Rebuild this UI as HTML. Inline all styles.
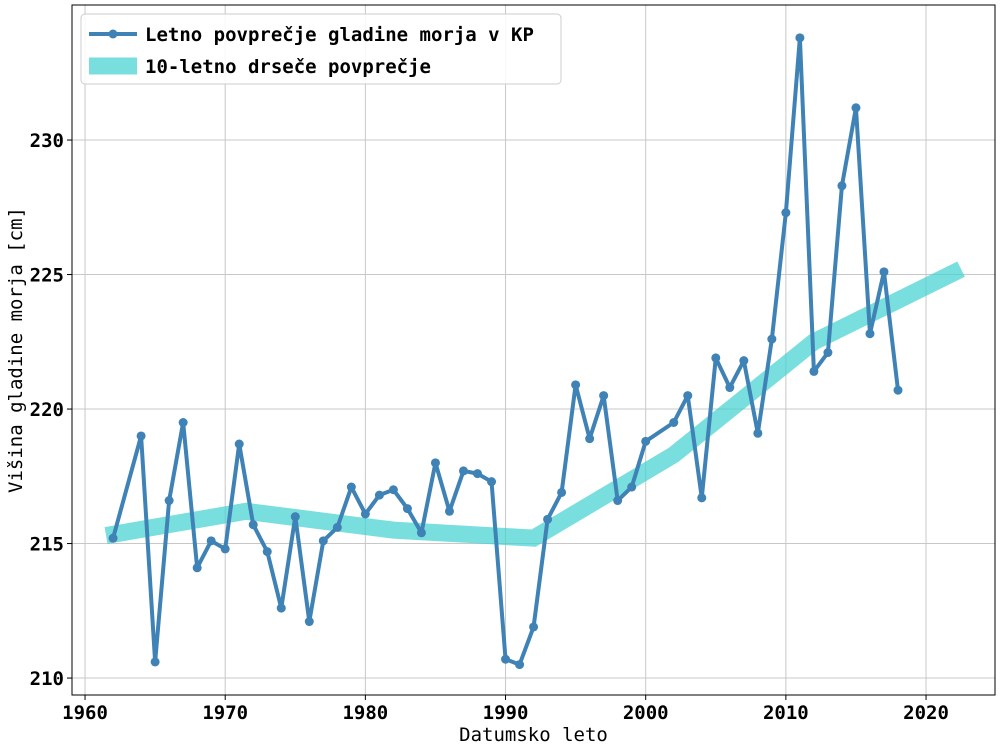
<!DOCTYPE html>
<html><head><meta charset="utf-8"><style>
body{margin:0;background:#fff;}
svg{display:block;font-family:"DejaVu Sans Mono","Liberation Mono",monospace;}
</style></head><body>
<svg id="chart" width="1003" height="750"></svg>
<script>
const years=[1962,1964,1965,1966,1967,1968,1969,1970,1971,1972,1973,1974,1975,1976,1977,1978,1979,1980,1981,1982,1983,1984,1985,1986,1987,1988,1989,1990,1991,1992,1993,1994,1995,1996,1997,1998,1999,2000,2002,2003,2004,2005,2006,2007,2008,2009,2010,2011,2012,2013,2014,2015,2016,2017,2018];
const levels=[215.2,219.0,210.6,216.6,219.5,214.1,215.1,214.8,218.7,215.7,214.7,212.6,216.0,212.1,215.1,215.6,217.1,216.1,216.8,217.0,216.3,215.4,218.0,216.2,217.7,217.6,217.3,210.7,210.5,211.9,215.9,216.9,220.9,218.9,220.5,216.6,217.1,218.8,219.5,220.5,216.7,221.9,220.8,221.8,219.1,222.6,227.3,233.8,221.4,222.1,228.3,231.2,222.8,225.1,220.7];
const maYears=[1961.5,1971.5,1982,1992,2002,2012,2022.5];
const maValues=[215.3,216.2,215.5,215.2,218.3,222.5,225.2];
const xTicks=[1960,1970,1980,1990,2000,2010,2020];
const yTicks=[210,215,220,225,230];

const L=72,R=995,T=5,B=695;
const x0=1959.07,x1=2024.92,y0=209.37,y1=235.02;
const sx=v=>L+(v-x0)/(x1-x0)*(R-L);
const sy=v=>B-(v-y0)/(y1-y0)*(B-T);
const svg=document.getElementById('chart');
const NS='http://www.w3.org/2000/svg';
function mk(tag,attrs,parent){const e=document.createElementNS(NS,tag);for(const k in attrs)e.setAttribute(k,attrs[k]);(parent||svg).appendChild(e);return e;}

xTicks.forEach(t=>{
  const g=mk('line',{x1:sx(t),x2:sx(t),y1:T,y2:B,stroke:'#c8c8c8','stroke-width':1});
  
  
  mk('line',{x1:sx(t),x2:sx(t),y1:B,y2:B+5,stroke:'#000'});
  const tx=mk('text',{x:sx(t),y:B+24,'text-anchor':'middle','font-size':19,'font-weight':'bold'});
  tx.textContent=t;
  
  
});
yTicks.forEach(t=>{
  const g=mk('line',{x1:L,x2:R,y1:sy(t),y2:sy(t),stroke:'#c8c8c8','stroke-width':1});
  
  
  mk('line',{x1:L-5,x2:L,y1:sy(t),y2:sy(t),stroke:'#000'});
  const tx=mk('text',{x:L-8,y:sy(t)+7,'text-anchor':'end','font-size':19,'font-weight':'bold'});
  tx.textContent=t;
  
  
});

const ma=mk('polyline',{points:maYears.map((y,i)=>sx(y)+','+sy(maValues[i])).join(' '),fill:'none',stroke:'#40d0d0','stroke-opacity':0.7,'stroke-width':17});



const ln=mk('polyline',{points:years.map((y,i)=>sx(y)+','+sy(levels[i])).join(' '),fill:'none',stroke:'#3f82b6','stroke-width':4,'stroke-linejoin':'round'});


years.forEach((y,i)=>{
  const c=mk('circle',{cx:sx(y),cy:sy(levels[i]),r:4.5,fill:'#3f82b6'});
  
  
});

const fr=mk('rect',{x:L,y:T,width:R-L,height:B-T,fill:'none',stroke:'#000','stroke-width':1});



const xl=mk('text',{x:(L+R)/2,y:741,'text-anchor':'middle','font-size':19});
xl.textContent='Datumsko leto';


const yl=mk('text',{x:0,y:0,'text-anchor':'middle','font-size':19,transform:'translate(22,350) rotate(-90)'});
yl.textContent='Višina gladine morja [cm]';



const lg=mk('g',{});


mk('rect',{x:81,y:14,width:480,height:70,rx:4,fill:'#fff','fill-opacity':0.85,stroke:'#ccc'},lg);
mk('line',{x1:89,x2:137,y1:34,y2:34,stroke:'#3f82b6','stroke-width':4},lg);
mk('circle',{cx:113,cy:34,r:4.5,fill:'#3f82b6'},lg);
const t1=mk('text',{x:145,y:41,'font-size':19,'font-weight':'bold'},lg);
t1.textContent='Letno povprečje gladine morja v KP';


mk('line',{x1:89,x2:137,y1:66,y2:66,stroke:'#40d0d0','stroke-opacity':0.7,'stroke-width':17},lg);
const t2=mk('text',{x:145,y:73,'font-size':19,'font-weight':'bold'},lg);
t2.textContent='10-letno drseče povprečje';


</script>
</body></html>
